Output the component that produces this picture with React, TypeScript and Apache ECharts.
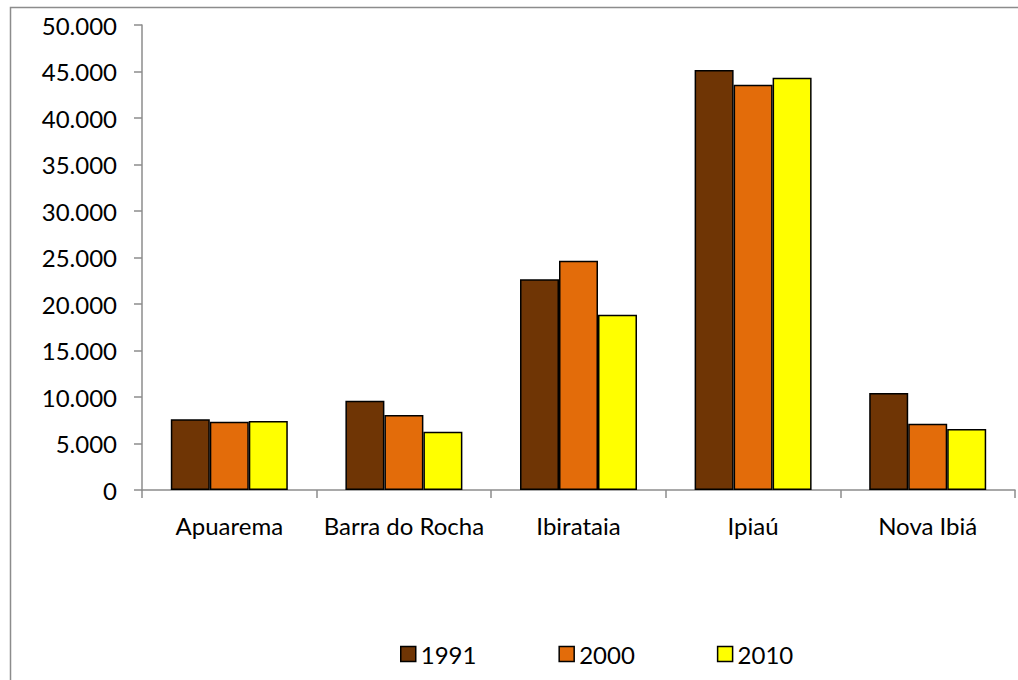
import React, { useEffect, useRef } from "react";
import * as echarts from "echarts";

const categories = ["Apuarema", "Barra do Rocha", "Ibirataia", "Ipiaú", "Nova Ibiá"];
const years = ["1991", "2000", "2010"];
const values1991 = [7600, 9600, 22650, 45160, 10430];
const values2000 = [7345, 8065, 24660, 43580, 7130];
const values2010 = [7420, 6270, 18850, 44340, 6560];
const colors = ["#6F3505", "#E36C0A", "#FFFF00"];
const yTicks = { min: 0, max: 50000, interval: 5000 };

const fmt = (v: number) => String(v).replace(/\B(?=(\d{3})+(?!\d))/g, ".");

export default function App() {
  const ref = useRef<HTMLDivElement>(null);
  useEffect(() => {
    if (!ref.current) return;
    const chart = echarts.init(ref.current, null, { renderer: "svg" });
    const font = "Lato, 'Open Sans', sans-serif";
    const seriesData = [values1991, values2000, values2010];
    chart.setOption({
      animation: false,
      backgroundColor: "#ffffff",
      graphic: [
        {
          type: "rect",
          shape: { x: 10.5, y: 7.5, width: 1040, height: 700 },
          style: { fill: "none", stroke: "#8c8c8c", lineWidth: 1.5 },
          silent: true,
        },
      ],
      grid: { left: 142, right: 3, top: 25, bottom: 190, containLabel: false },
      legend: {
        left: 400,
        top: 642,
        padding: 0,
        itemWidth: 15,
        itemHeight: 15,
        itemGap: 82,
        icon: "rect",
        itemStyle: { borderColor: "#000", borderWidth: 1.5 },
        textStyle: { fontFamily: font, fontSize: 24, lineHeight: 24, color: "#000" },
        data: years,
      },
      xAxis: {
        type: "category",
        data: categories,
        axisLine: { lineStyle: { color: "#8c8c8c", width: 1.5 } },
        axisTick: { show: true, length: 8, lineStyle: { color: "#8c8c8c", width: 1.5 } },
        axisLabel: { fontFamily: font, fontSize: 24, lineHeight: 24, color: "#000", margin: 23, interval: 0 },
        splitLine: { show: false },
      },
      yAxis: {
        type: "value",
        min: yTicks.min,
        max: yTicks.max,
        interval: yTicks.interval,
        axisLine: { show: true, lineStyle: { color: "#8c8c8c", width: 1.5 } },
        axisTick: { show: true, length: 8, lineStyle: { color: "#8c8c8c", width: 1.5 } },
        axisLabel: {
          fontFamily: font,
          fontSize: 24,
          color: "#000",
          margin: 25,
          formatter: (v: number) => fmt(v),
        },
        splitLine: { show: false },
      },
      series: years.map((y, i) => ({
        name: y,
        type: "bar",
        data: seriesData[i],
        barGap: "0%",
        barCategoryGap: "33%",
        itemStyle: { color: colors[i], borderColor: "#000", borderWidth: 1.5 },
      })),
    });
    return () => chart.dispose();
  }, []);
  return (
    <div
      ref={ref}
      style={{ position: "absolute", left: 0, top: 0, width: 1018, height: 680 }}
    />
  );
}
